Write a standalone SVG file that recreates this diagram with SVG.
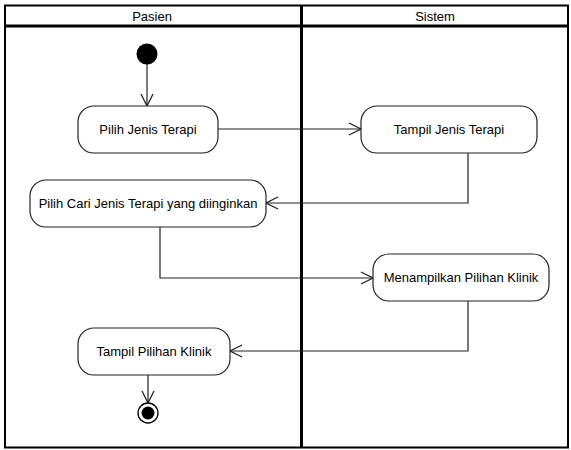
<svg xmlns="http://www.w3.org/2000/svg" width="571" height="450" viewBox="0 0 571 450">
  <style>
    .lane { fill: none; stroke: #000; }
    .act rect { fill: #fff; stroke: #222; stroke-width: 1.2; }
    .act text, .hdr { font-family: "Liberation Sans", Arial, sans-serif; font-size: 13px; fill: #000; text-anchor: middle; dominant-baseline: central; }
    .flow { fill: none; stroke: #222; stroke-width: 1.2; marker-end: url(#open); }
  </style>
  <defs>
    <marker id="open" viewBox="0 0 14 14" refX="13" refY="7" markerWidth="14" markerHeight="14" markerUnits="userSpaceOnUse" orient="auto">
      <path d="M1,1 L13,7 L1,13" fill="none" stroke="#222" stroke-width="1.3"/>
    </marker>
  </defs>
  <rect width="571" height="450" fill="#fff"/>

  <!-- swimlane frame -->
  <g id="lanes">
    <rect class="lane" x="5" y="5.5" width="563" height="442" stroke-width="2"/>
    <line class="lane" x1="5" y1="26" x2="568" y2="26" stroke-width="3"/>
    <line class="lane" x1="301.5" y1="5" x2="301.5" y2="448" stroke-width="3"/>
    <text class="hdr" x="152" y="16">Pasien</text>
    <text class="hdr" x="435" y="16">Sistem</text>
  </g>

  <!-- connectors -->
  <g id="connectors">
    <line class="flow" x1="147" y1="64" x2="147" y2="106"/>
    <line class="flow" x1="218" y1="129" x2="361" y2="129"/>
    <polyline class="flow" points="468,153 468,203 266,203"/>
    <polyline class="flow" points="160,227 160,278 373,278"/>
    <polyline class="flow" points="468,301 468,351 230,351"/>
    <line class="flow" x1="148" y1="375" x2="148" y2="403"/>
  </g>

  <g id="start">
    <circle cx="147" cy="54" r="10.5" fill="#000"/>
  </g>

  <g id="pilih-jenis-terapi" class="act">
    <rect x="78" y="106" width="140" height="47" rx="16"/>
    <text x="148" y="129.5">Pilih Jenis Terapi</text>
  </g>

  <g id="tampil-jenis-terapi" class="act">
    <rect x="361" y="106" width="176" height="47" rx="16"/>
    <text x="449" y="129.5">Tampil Jenis Terapi</text>
  </g>

  <g id="pilih-cari" class="act">
    <rect x="30" y="180" width="236" height="47" rx="16"/>
    <text x="148" y="203.5">Pilih Cari Jenis Terapi yang diinginkan</text>
  </g>

  <g id="menampilkan-pilihan-klinik" class="act">
    <rect x="373" y="254" width="176" height="47" rx="16"/>
    <text x="461" y="277.5">Menampilkan Pilihan Klinik</text>
  </g>

  <g id="tampil-pilihan-klinik" class="act">
    <rect x="78" y="328" width="152" height="47" rx="16"/>
    <text x="154" y="351.5">Tampil Pilihan Klinik</text>
  </g>

  <g id="end">
    <circle cx="148" cy="413" r="10" fill="#fff" stroke="#000" stroke-width="1.3"/>
    <circle cx="148" cy="413" r="6.5" fill="#000"/>
  </g>
</svg>
